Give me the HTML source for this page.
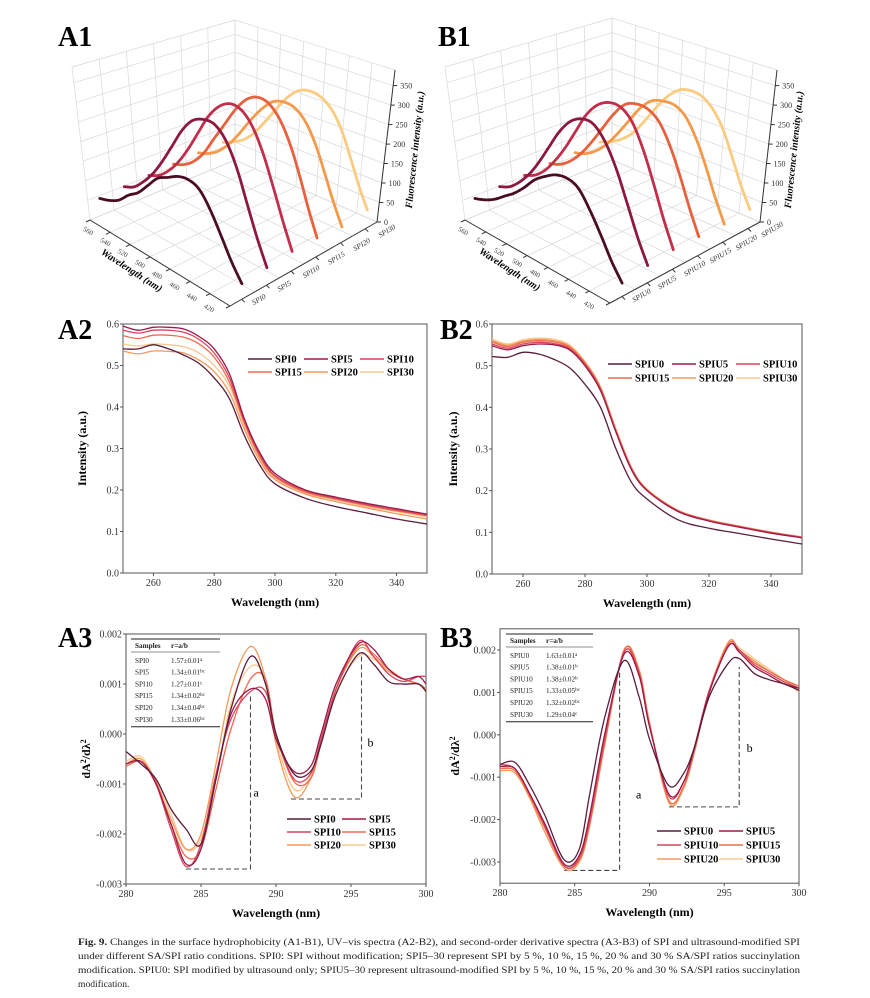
<!DOCTYPE html>
<html><head><meta charset="utf-8"><style>
html,body{margin:0;padding:0;background:#fff;}
svg{display:block;font-family:"Liberation Serif",serif;}
</style></head><body>
<svg id="fig" width="870" height="998" viewBox="0 0 870 998" xmlns="http://www.w3.org/2000/svg">
<rect width="870" height="998" fill="#fff"/>
<g font-family="Liberation Serif, serif" font-weight="bold" font-size="28">
<text x="58" y="46">A1</text>
<text x="438" y="46">B1</text>
<text x="58" y="339">A2</text>
<text x="440" y="339">B2</text>
<text x="58" y="647">A3</text>
<text x="440" y="647">B3</text>
</g>
<g font-size="9.6" fill="#222">
<text x="78" y="945" textLength="722" lengthAdjust="spacingAndGlyphs"><tspan font-weight="bold">Fig. 9.</tspan> Changes in the surface hydrophobicity (A1-B1), UV–vis spectra (A2-B2), and second-order derivative spectra (A3-B3) of SPI and ultrasound-modified SPI</text>
<text x="78" y="959" textLength="722" lengthAdjust="spacingAndGlyphs">under different SA/SPI ratio conditions. SPI0: SPI without modification; SPI5–30 represent SPI by 5 %, 10 %, 15 %, 20 % and 30 % SA/SPI ratios succinylation</text>
<text x="78" y="973" textLength="722" lengthAdjust="spacingAndGlyphs">modification. SPIU0: SPI modified by ultrasound only; SPIU5–30 represent ultrasound-modified SPI by 5 %, 10 %, 15 %, 20 % and 30 % SA/SPI ratios succinylation</text>
<text x="78" y="987">modification.</text>
</g>
</svg>
<script>
// ---------- data: 3D fluorescence ----------
const wl3 = [420,430,440,450,460,470,480,490,500,510,520,530,540,550,560];
const namesA = ["SPI0","SPI5","SPI10","SPI15","SPI20","SPI30"];
const namesB = ["SPIU0","SPIU5","SPIU10","SPIU15","SPIU20","SPIU30"];
const fluorA0 = [37,74,122,170,207,218,213,197,181,149,117,96,69,53,43];
const fluorA5 = [42,100,170,245,300,327,327,312,275,222,170,125,90,62,48];
const fluorA10 = [48,110,180,250,305,335,340,322,285,230,175,128,92,66,52];
const fluorA15 = [47,108,180,247,297,325,330,313,275,225,175,125,90,68,56];
const fluorA20 = [40,92,153,214,260,285,290,280,250,209,163,122,91,71,60];
const fluorA30 = [48,98,158,218,260,283,290,282,255,213,167,125,94,76,62];
const fluorB0 = [32,70,120,168,207,218,213,196,174,142,114,92,70,54,43];
const fluorB5 = [42,98,168,240,295,325,325,306,268,217,166,122,88,62,48];
const fluorB10 = [48,110,185,258,315,340,340,322,285,230,176,130,92,66,52];
const fluorB15 = [47,106,175,239,287,308,310,297,260,212,164,122,90,68,57];
const fluorB20 = [45,100,165,225,270,290,290,280,250,205,160,120,90,70,60];
const fluorB30 = [48,98,159,220,262,285,290,281,253,211,164,122,94,76,62];
const zTicks = [0,50,100,150,200,250,300,350];
const wlTicks = [420,440,460,480,500,520,540,560];
// ---------- data: UV-vis ----------
const wlUV = [250,255,260,265,270,275,280,285,290,295,300,310,320,330,340,350];
const uvA0 = [0.54,0.54,0.55,0.54,0.525,0.505,0.47,0.42,0.33,0.26,0.215,0.18,0.16,0.145,0.13,0.118];
const uvA5 = [0.595,0.585,0.592,0.592,0.588,0.57,0.54,0.48,0.37,0.29,0.24,0.2,0.183,0.168,0.155,0.142];
const uvA10 = [0.585,0.578,0.585,0.585,0.58,0.563,0.53,0.47,0.365,0.285,0.235,0.198,0.18,0.165,0.152,0.14];
const uvA15 = [0.572,0.565,0.573,0.573,0.568,0.552,0.52,0.46,0.36,0.28,0.232,0.195,0.178,0.163,0.15,0.138];
const uvA20 = [0.535,0.528,0.535,0.534,0.53,0.513,0.485,0.435,0.345,0.27,0.225,0.19,0.172,0.157,0.143,0.13];
const uvA30 = [0.552,0.547,0.552,0.55,0.545,0.53,0.5,0.45,0.352,0.275,0.228,0.193,0.176,0.16,0.148,0.135];
const uvB0 = [0.522,0.52,0.532,0.528,0.515,0.495,0.455,0.4,0.3,0.22,0.18,0.13,0.11,0.097,0.084,0.072];
const uvB5 = [0.548,0.538,0.548,0.552,0.55,0.538,0.5,0.44,0.34,0.25,0.2,0.15,0.127,0.112,0.098,0.087];
const uvB10 = [0.552,0.542,0.552,0.556,0.553,0.541,0.503,0.443,0.342,0.252,0.201,0.151,0.128,0.113,0.099,0.088];
const uvB15 = [0.557,0.546,0.556,0.56,0.557,0.544,0.506,0.446,0.344,0.254,0.202,0.152,0.129,0.114,0.1,0.088];
const uvB20 = [0.56,0.549,0.559,0.563,0.56,0.547,0.508,0.448,0.346,0.255,0.203,0.153,0.129,0.114,0.1,0.089];
const uvB30 = [0.564,0.552,0.562,0.566,0.563,0.55,0.51,0.45,0.348,0.256,0.204,0.153,0.13,0.115,0.101,0.089];
const uvXTicks = [260,280,300,320,340];
const uvYTicks = [0.0,0.1,0.2,0.3,0.4,0.5,0.6];
// ---------- data: second derivative (x1e-3) ----------
const dxA = [280,281,282,283,284,285,286,287,288.3,289.3,290,291.2,292.3,293,294,295.5,296.5,297.5,298.5,299.5,300];
const dA0 = [-0.35,-0.6,-0.9,-1.5,-1.9,-2.2,-0.9,0.5,1.55,1.0,0.0,-0.8,-0.75,-0.2,0.8,1.6,1.4,1.05,1.0,1.0,0.85];
const dA5 = [-0.6,-0.55,-1.0,-1.8,-2.6,-2.3,-0.9,0.4,0.9,0.7,-0.1,-0.75,-0.65,0.0,1.0,1.8,1.7,1.3,1.1,1.15,1.0];
const dA10 = [-0.6,-0.55,-1.0,-1.9,-2.65,-2.2,-0.8,0.3,0.85,0.85,0.0,-0.9,-0.8,-0.1,0.9,1.85,1.55,1.2,1.05,1.15,1.15];
const dA15 = [-0.65,-0.55,-0.95,-1.8,-2.45,-2.3,-1.1,0.1,1.1,1.1,0.0,-0.95,-0.9,-0.2,0.9,1.75,1.6,1.3,1.1,1.0,0.9];
const dA20 = [-0.6,-0.5,-1.0,-1.7,-2.3,-2.0,-0.6,0.9,1.75,1.1,-0.2,-1.25,-0.9,-0.2,0.9,1.7,1.55,1.25,1.1,1.0,0.85];
const dA30 = [-0.55,-0.45,-0.95,-1.6,-2.3,-2.1,-0.9,0.6,1.35,1.1,-0.1,-1.1,-0.85,-0.2,0.85,1.55,1.5,1.3,1.1,1.0,0.9];
const dxB = [280,281,282,283,284.3,285.3,286,287,288.3,289.3,290,291.3,292.3,293,294,295.3,296,297,298,299,300];
const dB0 = [-0.7,-0.65,-1.2,-1.9,-2.95,-2.7,-1.4,0.4,1.75,0.9,-0.1,-1.2,-0.9,-0.3,0.9,1.7,1.8,1.45,1.3,1.2,1.05];
const dB5 = [-0.75,-0.8,-1.4,-2.1,-3.05,-2.85,-1.9,0.0,1.9,1.4,0.2,-1.4,-1.1,-0.3,1.0,2.1,1.95,1.6,1.4,1.2,1.1];
const dB10 = [-0.7,-0.8,-1.4,-2.15,-3.1,-2.9,-2.0,-0.1,1.95,1.45,0.2,-1.45,-1.1,-0.3,1.05,2.1,2.0,1.65,1.45,1.25,1.1];
const dB15 = [-0.8,-0.85,-1.45,-2.2,-3.1,-2.95,-2.1,-0.2,2.0,1.5,0.25,-1.55,-1.2,-0.4,1.0,2.15,2.0,1.7,1.5,1.3,1.15];
const dB20 = [-0.85,-0.9,-1.5,-2.3,-3.15,-3.0,-2.15,-0.25,2.0,1.55,0.3,-1.6,-1.25,-0.4,1.05,2.2,2.0,1.75,1.5,1.3,1.1];
const dB30 = [-0.8,-0.8,-1.4,-2.2,-3.1,-2.95,-2.1,-0.2,1.95,1.5,0.25,-1.6,-1.2,-0.35,1.05,2.15,2.05,1.8,1.55,1.3,1.0];
const dXTicks = [280,285,290,295,300];
const dYTicksA = [-3,-2,-1,0,1,2];
const dYTicksB = [-3,-2,-1,0,1,2];
const ratioA = ["1.57±0.01","1.34±0.01","1.27±0.01","1.34±0.02","1.34±0.04","1.33±0.06"];
const supA = ["a","bc","c","bc","bc","bc"];
const ratioB = ["1.63±0.01","1.38±0.01","1.38±0.02","1.33±0.05","1.32±0.02","1.29±0.04"];
const supB = ["a","b","b","bc","bc","c"];

const col3D = ["#4a0c24","#8c1840","#c22d4c","#e8603c","#f39a4a","#fbcb80"];
const colUV = ["#5a1d3c","#9e1a48","#d8455f","#ef6b50","#f5995a","#f8c890"];

const NS = "http://www.w3.org/2000/svg";
const svg = document.getElementById("fig");
function mk(tag, attrs, parent){ const e=document.createElementNS(NS,tag); for(const k in attrs) e.setAttribute(k,attrs[k]); (parent||svg).appendChild(e); return e; }

function smoothPath(pts){
  let d = "M"+pts[0][0].toFixed(1)+","+pts[0][1].toFixed(1);
  for(let i=0;i<pts.length-1;i++){
    const p0=pts[Math.max(0,i-1)], p1=pts[i], p2=pts[i+1], p3=pts[Math.min(pts.length-1,i+2)];
    const c1=[p1[0]+(p2[0]-p0[0])/6, p1[1]+(p2[1]-p0[1])/6];
    const c2=[p2[0]-(p3[0]-p1[0])/6, p2[1]-(p3[1]-p1[1])/6];
    d+=" C"+c1[0].toFixed(1)+","+c1[1].toFixed(1)+" "+c2[0].toFixed(1)+","+c2[1].toFixed(1)+" "+p2[0].toFixed(1)+","+p2[1].toFixed(1);
  }
  return d;
}

// ---------- 3D panels ----------
function draw3D(cfg){
  const g = mk("g",{});
  
  
  const C = cfg.c;
  function P(u,v,w){
    let x=0,y=0;
    for(const a of [0,1]) for(const b of [0,1]) for(const c of [0,1]){
      const wt=(a?u:1-u)*(b?v:1-v)*(c?w:1-w);
      const pt=C[""+a+b+c]; x+=wt*pt[0]; y+=wt*pt[1];
    }
    return [x,y];
  }
  const zMax=390;
  const grid = mk("g",{stroke:"#d8d8d8","stroke-width":"0.7",fill:"none"},g);
  
  
  function ln(a,b,parent,attrs){ const l=mk("line",Object.assign({x1:a[0].toFixed(1),y1:a[1].toFixed(1),x2:b[0].toFixed(1),y2:b[1].toFixed(1)},attrs||{}),parent); return l; }
  const uT = wlTicks.map(t=>(t-420)/140);
  const vT = [0,1/6,2/6,3/6,4/6,5/6,1];
  const wT = zTicks.map(z=>z/zMax).concat([1]);
  uT.forEach(u=>{ ln(P(u,0,0),P(u,1,0),grid); ln(P(u,1,0),P(u,1,1),grid); });
  vT.forEach(v=>{ ln(P(0,v,0),P(1,v,0),grid); ln(P(1,v,0),P(1,v,1),grid); });
  wT.forEach(w=>{ ln(P(1,0,w),P(1,1,w),grid); ln(P(1,1,w),P(0,1,w),grid); });
  const ax = mk("g",{stroke:"#333","stroke-width":"1",fill:"none"},g);
  
  
  ln(P(0,0,0),P(1,0,0),ax); ln(P(0,0,0),P(0,1,0),ax); ln(P(0,1,0),P(0,1,1),ax);
  zTicks.forEach(z=>{
    const p=P(0,1,z/zMax);
    ln(p,[p[0]+4,p[1]],ax);
    const t=mk("text",{x:(p[0]+7).toFixed(1),y:(p[1]+3).toFixed(1),"font-size":"8","fill":"#333"},g);
    
    
    t.textContent=z;
  });
  wlTicks.forEach(w=>{
    const u=(w-420)/140; const p=P(u,0,0);
    ln(p,[p[0]-4,p[1]+2],ax);
    const x=p[0]-22+19*u, y=p[1]+4+9*u;
    const t=mk("text",{x:x.toFixed(1),y:y.toFixed(1),"font-size":"7","fill":"#444","text-anchor":"middle",transform:"rotate(30 "+x.toFixed(1)+" "+y.toFixed(1)+")"},g);
    
    
    t.textContent=w;
  });
  const wp=cfg.wlTitle;
  const wt=mk("text",{x:wp[0],y:wp[1],"font-size":"10","font-style":"italic","font-weight":"bold","text-anchor":"middle",transform:"rotate(33 "+wp[0]+" "+wp[1]+")"},g);
  
  
  wt.textContent="Wavelength (nm)";
  const zp=cfg.zTitle;
  const zt=mk("text",{x:zp[0],y:zp[1],"font-size":"10","font-style":"italic","font-weight":"bold","text-anchor":"middle",transform:"rotate(-84 "+zp[0]+" "+zp[1]+")"},g);
  
  
  zt.textContent="Fluorescence intensity (a.u.)";
  const vs = cfg.names.map((n,i)=>0.08+i*0.168);
  cfg.names.forEach((n,i)=>{
    const p=P(0,vs[i],0);
    ln(p,[p[0]+3,p[1]+3],ax);
    const x=p[0]+12+(i*0.6), y=p[1]+6+i*0.6;
    const t=mk("text",{x:x.toFixed(1),y:y.toFixed(1),"font-size":"7.5","font-style":"italic","fill":"#333",transform:"rotate(-30 "+x.toFixed(1)+" "+y.toFixed(1)+")"},g);
    
    
    t.textContent=n;
  });
  for(let i=cfg.series.length-1;i>=0;i--){
    const pts = wl3.map((w,k)=>P((w-420)/140, vs[i], cfg.series[i][k]/zMax));
    const c=mk("path",{d:smoothPath(pts),fill:"none",stroke:col3D[i],"stroke-width":"2.8","stroke-linecap":"round","stroke-dasharray":"2.2 0.8"},g);
    
    
  }
}
draw3D({id:"a1",names:namesA,series:[fluorA0,fluorA5,fluorA10,fluorA15,fluorA20,fluorA30],
  c:{"000":[230,306],"100":[90,220],"010":[377,222],"110":[235,160],"001":[230,141],"101":[72,67],"011":[395,70],"111":[235,20]},
  wlTitle:[130,273], zTitle:[418,150]});
draw3D({id:"b1",names:namesB,series:[fluorB0,fluorB5,fluorB10,fluorB15,fluorB20,fluorB30],
  c:{"000":[610,303],"100":[465,220],"010":[760,222],"110":[612,160],"001":[610,138],"101":[445,67],"011":[777,70],"111":[612,18]},
  wlTitle:[508,272], zTitle:[797,150]});

// ---------- 2D panels ----------
function draw2D(cfg){
  const g = mk("g",{});
  
  
  const X = v => cfg.px0 + (v-cfg.x0)/(cfg.x1-cfg.x0)*(cfg.px1-cfg.px0);
  const Y = v => cfg.py0 + (v-cfg.y0)/(cfg.y1-cfg.y0)*(cfg.py1-cfg.py0);
  const top=Y(cfg.yTop), bot=Y(cfg.yBot);
  const box=mk("rect",{x:cfg.px0,y:top.toFixed(1),width:cfg.px1-cfg.px0,height:(bot-top).toFixed(1),fill:"none",stroke:"#555","stroke-width":"1"},g);
  
  
  cfg.xticks.forEach(t=>{
    const x=X(t);
    mk("line",{x1:x,y1:bot,x2:x,y2:bot+3,stroke:"#555"},g);
    const l=mk("text",{x:x.toFixed(1),y:(bot+13).toFixed(1),"font-size":"10","text-anchor":"middle",fill:"#333"},g);
    
    
    l.textContent=t;
  });
  cfg.yticks.forEach(t=>{
    const y=Y(t);
    mk("line",{x1:cfg.px0-3,y1:y,x2:cfg.px0,y2:y,stroke:"#555"},g);
    const l=mk("text",{x:cfg.px0-4,y:(y+3.5).toFixed(1),"font-size":"10","text-anchor":"end",fill:"#333"},g);
    
    
    l.textContent=cfg.yfmt(t);
  });
  const xt=mk("text",{x:((cfg.px0+cfg.px1)/2).toFixed(1),y:(bot+33).toFixed(1),"font-size":"12","font-weight":"bold","text-anchor":"middle"},g);
  
  
  xt.textContent="Wavelength (nm)";
  const yt=mk("text",{x:cfg.ytx,y:((top+bot)/2).toFixed(1),"font-size":"12","font-weight":"bold","text-anchor":"middle",transform:"rotate(-90 "+cfg.ytx+" "+((top+bot)/2).toFixed(1)+")"},g);
  
  
  if(cfg.deriv){ yt.innerHTML='dA<tspan baseline-shift="super" font-size="8">2</tspan>/dλ<tspan baseline-shift="super" font-size="8">2</tspan>'; }
  else yt.textContent="Intensity (a.u.)";
  (cfg.guides||[]).forEach(gd=>{
    const p=mk("path",{d:"M"+X(gd[0])+","+Y(gd[2])+" H"+X(gd[1])+" V"+Y(gd[3]),fill:"none",stroke:"#444","stroke-width":"1.1","stroke-dasharray":"5 3"},g);
    
    
    const t=mk("text",{x:X(gd[5]),y:Y(gd[6]),"font-size":"12"},g);
    
    
    t.textContent=gd[4];
  });
  const clip=mk("clipPath",{id:"clip-"+cfg.id},g);
  mk("rect",{x:cfg.px0,y:top,width:cfg.px1-cfg.px0,height:bot-top},clip);
  const lines=mk("g",{"clip-path":"url(#clip-"+cfg.id+")"},g);
  for(let i=cfg.series.length-1;i>=0;i--){
    const pts=cfg.xs.map((x,k)=>[X(x),Y(cfg.series[i][k]*cfg.scale)]);
    const p=mk("path",{d:smoothPath(pts),fill:"none",stroke:colUV[i],"stroke-width":"1.3"},lines);
    
    
  }
  const lg=mk("g",{},g);
  
  
  cfg.names.forEach((n,i)=>{
    const col=i%cfg.legCols, row=Math.floor(i/cfg.legCols);
    const x=cfg.leg[0]+col*cfg.legDx, y=cfg.leg[1]+row*cfg.legDy;
    const e=mk("g",{},lg);
    
    
    mk("line",{x1:x,y1:y,x2:x+24,y2:y,stroke:colUV[i],"stroke-width":"1.6"},e);
    const t=mk("text",{x:x+27,y:y+3.5,"font-size":"10.5","font-weight":"bold"},e);
    t.textContent=n;
  });
  if(cfg.table){
    const tb=cfg.table; const tg=mk("g",{"font-size":"7.2",fill:"#222"},g);
    
    
    mk("line",{x1:tb.x0,y1:tb.y0,x2:tb.x1,y2:tb.y0,stroke:"#222","stroke-width":"1"},tg);
    mk("line",{x1:tb.x0,y1:tb.y0+13,x2:tb.x1,y2:tb.y0+13,stroke:"#222","stroke-width":"0.6"},tg);
    const last=tb.y0+17+6*tb.dy;
    mk("line",{x1:tb.x0,y1:last,x2:tb.x1,y2:last,stroke:"#222","stroke-width":"1"},tg);
    const h1=mk("text",{x:tb.x0+4,y:tb.y0+9,"font-weight":"bold"},tg); h1.textContent="Samples";
    const h2=mk("text",{x:tb.x0+40,y:tb.y0+9,"font-weight":"bold"},tg); h2.textContent="r=a/b";
    cfg.names.forEach((n,i)=>{
      const y=tb.y0+13+(i+1)*tb.dy-1;
      const a=mk("text",{x:tb.x0+4,y:y},tg); a.textContent=n;
      const b=mk("text",{x:tb.x0+40,y:y},tg);
      b.innerHTML=tb.r[i]+'<tspan baseline-shift="super" font-size="5">'+tb.s[i]+'</tspan>';
    });
  }
}
draw2D({id:"a2",px0:123,px1:427,x0:250,x1:350,py0:573,py1:324,y0:0,y1:0.6,yTop:0.6,yBot:0,scale:1,
  xticks:uvXTicks,yticks:uvYTicks,yfmt:t=>t.toFixed(1),ytx:86,names:namesA,xs:wlUV,
  series:[uvA0,uvA5,uvA10,uvA15,uvA20,uvA30],leg:[248,359],legCols:3,legDx:56,legDy:13});
draw2D({id:"b2",px0:492,px1:802,x0:250,x1:350,py0:574,py1:324,y0:0,y1:0.6,yTop:0.6,yBot:0,scale:1,
  xticks:uvXTicks,yticks:uvYTicks,yfmt:t=>t.toFixed(1),ytx:457,names:namesB,xs:wlUV,
  series:[uvB0,uvB5,uvB10,uvB15,uvB20,uvB30],leg:[608,364],legCols:3,legDx:64,legDy:14});
draw2D({id:"a3",px0:126,px1:426,x0:280,x1:300,py0:884,py1:634,y0:-3,y1:2,yTop:2,yBot:-3,scale:1,deriv:true,
  xticks:dXTicks,yticks:dYTicksA,yfmt:t=>(t/1000).toFixed(3),ytx:90,names:namesA,xs:dxA,
  series:[dA0,dA5,dA10,dA15,dA20,dA30],leg:[287,819],legCols:2,legDx:55,legDy:13,
  guides:[[284,288.3,-2.7,0.75,"a",288.5,-1.25],[291,295.7,-1.3,1.6,"b",296.1,-0.25]],
  table:{x0:131,x1:220,y0:639,dy:11.8,r:ratioA,s:supA}});
draw2D({id:"b3",px0:500,px1:799,x0:280,x1:300,py0:862,py1:650,y0:-3,y1:2,yTop:2.5,yBot:-3.5,scale:1,deriv:true,
  xticks:dXTicks,yticks:dYTicksB,yfmt:t=>(t/1000).toFixed(3),ytx:459,names:namesB,xs:dxB,
  series:[dB0,dB5,dB10,dB15,dB20,dB30],leg:[657,831],legCols:2,legDx:62,legDy:14,
  guides:[[284.3,288,-3.2,1.7,"a",289.1,-1.5],[291.3,296,-1.7,1.6,"b",296.5,-0.4]],
  table:{x0:506,x1:593,y0:634,dy:11.8,r:ratioB,s:supB}});
</script>
</body></html>
